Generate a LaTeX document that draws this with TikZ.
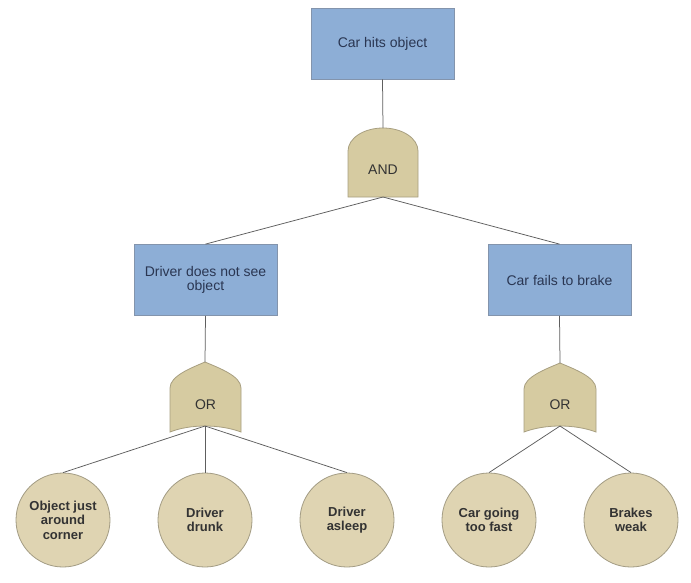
\documentclass[tikz,border=0pt]{standalone}
\usepackage{fontspec}
\setmainfont{Liberation Sans}
\definecolor{boxfill}{HTML}{8DAED6}
\definecolor{boxline}{HTML}{8394AC}
\definecolor{boxtext}{HTML}{2A3652}
\definecolor{gatefill}{HTML}{D6CBA1}
\definecolor{gateline}{HTML}{A89F80}
\definecolor{circfill}{HTML}{DFD4B2}
\definecolor{circline}{HTML}{A39C84}
\definecolor{wire}{HTML}{5E5E5E}
\definecolor{darktext}{HTML}{333333}
\begin{document}
\begin{tikzpicture}[x=1pt,y=-1pt,
  eventbox/.style={rectangle,draw=boxline,fill=boxfill,line width=0.8pt,
    minimum width=143pt,minimum height=71pt,inner sep=0pt,align=center,
    text=boxtext,font=\fontsize{14}{14.5}\selectfont},
  gatelabel/.style={inner sep=0pt,text=darktext,font=\fontsize{14}{15}\selectfont},
  gateshape/.style={draw=gateline,fill=gatefill,line width=0.8pt},
  basic/.style={circle,draw=circline,fill=circfill,line width=0.8pt,
    minimum size=94pt,inner sep=0pt,align=center,text=darktext,
    font=\bfseries\fontsize{13}{14.5}\selectfont},
  wireline/.style={draw=wire,line width=0.75pt}]
\useasboundingbox (0,0) rectangle (691,582);
\fill[white] (0,0) rectangle (691,582);

% coordinates of gate ends
\coordinate (andtop) at (383,128);
\coordinate (andbot) at (383,197);
\coordinate (orltop) at (205,362);
\coordinate (orlbot) at (205,426);
\coordinate (orrtop) at (560,363);
\coordinate (orrbot) at (560,426);

% events
\node[eventbox] (top) at (382.5,43.5) {Car hits object};
\node[eventbox] (dns) at (205.5,280) {Driver does not see\\object};
\node[eventbox] (cfb) at (559.5,280) {Car fails to brake};

% basic events
\node[basic] (c1) at (63,520) {Object just\\around\\corner};
\node[basic] (c2) at (205,520) {Driver\\drunk};
\node[basic] (c3) at (347,520) {Driver\\asleep};
\node[basic] (c4) at (489,520) {Car going\\too fast};
\node[basic] (c5) at (631,520) {Brakes\\weak};

% AND gate
\path[gateshape] (348,197) -- (348,151) arc[start angle=180,end angle=0,x radius=35pt,y radius=23pt] -- (418,197) -- cycle;
\node[gatelabel] (andg) at (383,170) {AND};

% OR gates
\path[gateshape] (170,432) -- (170,388) .. controls (170,376) and (191,368) .. (orltop)
  .. controls (219,368) and (241,376) .. (241,388) -- (241,432)
  .. controls (220,424) and (190,424) .. (170,432) -- cycle;
\node[gatelabel] (orl) at (205.5,405) {OR};
\path[gateshape] (524,432) -- (524,389) .. controls (524,377) and (546,369) .. (orrtop)
  .. controls (574,369) and (596,377) .. (596,389) -- (596,432)
  .. controls (575,424) and (545,424) .. (524,432) -- cycle;
\node[gatelabel] (orr) at (560,405) {OR};

% connectors
\draw[wireline] (top.south) -- (andtop);
\draw[wireline] (andbot) -- (dns.north);
\draw[wireline] (andbot) -- (cfb.north);
\draw[wireline] (dns.south) -- (orltop);
\draw[wireline] (cfb.south) -- (orrtop);
\draw[wireline] (orlbot) -- (c1.north);
\draw[wireline] (orlbot) -- (c2.north);
\draw[wireline] (orlbot) -- (c3.north);
\draw[wireline] (orrbot) -- (c4.north);
\draw[wireline] (orrbot) -- (c5.north);
\end{tikzpicture}
\end{document}
